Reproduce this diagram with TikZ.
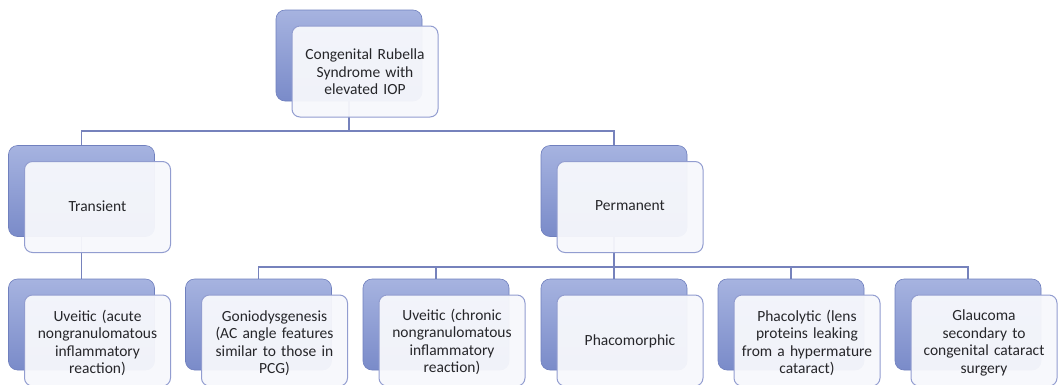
\documentclass[tikz,border=0pt]{standalone}
\usepackage{fontspec}
\setmainfont{Carlito}
\usetikzlibrary{backgrounds}
\definecolor{backtop}{RGB}{166,179,224}
\definecolor{backbot}{RGB}{122,139,201}
\definecolor{backline}{RGB}{112,128,190}
\definecolor{frontfill}{RGB}{247,248,252}
\definecolor{frontline}{RGB}{146,157,208}
\definecolor{linkcol}{RGB}{118,130,188}
\definecolor{textcol}{RGB}{38,38,42}
\tikzset{
  backbox/.style={rectangle, rounded corners=9pt, minimum width=146pt,
    minimum height=91pt, inner sep=0pt, draw=backline, line width=0.6pt,
    top color=backtop, bottom color=backbot},
  frontbox/.style={rectangle, rounded corners=8pt, minimum width=146pt,
    minimum height=91pt, inner sep=0pt, draw=frontline, line width=1pt,
    fill=frontfill, fill opacity=0.95, text opacity=1},
  label/.style={text width=142pt, align=center, text=textcol,
    font=\fontsize{15.5pt}{17.5pt}\selectfont, inner sep=0pt},
  link/.style={draw=linkcol, line width=1.2pt}
}
\begin{document}
\begin{tikzpicture}[x=1pt,y=-1pt]
\useasboundingbox (0,0) rectangle (1058,384);
\clip (0,0) rectangle (1058,384);

% root
\node[backbox] (crsB) at (349,55.5) {};
\node[frontbox] (crsF) at (365,71.5) {};
\node[label] (crs) at (365,72) {Congenital Rubella\\Syndrome with\\elevated IOP};

% second level
\node[backbox] (trB) at (81.5,191) {};
\node[frontbox] (trF) at (97.5,207) {};
\node[label] (tr) at (97.5,206) {Transient};

\node[backbox] (peB) at (614,191) {};
\node[frontbox] (peF) at (630,207) {};
\node[label] (pe) at (630,206) {Permanent};

% third level
\node[backbox] (uaB) at (81.5,324.5) {};
\node[frontbox] (uaF) at (97.5,340.5) {};
\node[label] (ua) at (97.5,343) {Uveitic (acute\\nongranulomatous\\inflammatory\\reaction)};

\node[backbox] (goB) at (258.5,324.5) {};
\node[frontbox] (goF) at (274.5,340.5) {};
\node[label] (go) at (274.5,343) {Goniodysgenesis\\(AC angle features\\similar to those in\\PCG)};

\node[backbox] (ucB) at (436,324.5) {};
\node[frontbox] (ucF) at (452,340.5) {};
\node[label] (uc) at (452,342) {Uveitic (chronic\\nongranulomatous\\inflammatory\\reaction)};

\node[backbox] (pmB) at (614,324.5) {};
\node[frontbox] (pmF) at (630,340.5) {};
\node[label] (pm) at (630,341) {Phacomorphic};

\node[backbox] (plB) at (791,324.5) {};
\node[frontbox] (plF) at (807,340.5) {};
\node[label] (pl) at (807,343) {Phacolytic (lens\\proteins leaking\\from a hypermature\\cataract)};

\node[backbox] (glB) at (968,324.5) {};
\node[frontbox] (glF) at (984,340.5) {};
\node[label] (gl) at (984,343) {Glaucoma\\secondary to\\congenital cataract\\surgery};

% white page and connectors, behind the boxes
\begin{scope}[on background layer]
  \fill[white] (0,0) rectangle (1058,384);
  \coordinate (hubA) at (0,131);
  \coordinate (hubB) at (0,267);
  \draw[link] (crsB.center) -- (crsB.center |- hubA) -| (trB.center);
  \draw[link] (crsB.center |- hubA) -| (peB.center);
  \draw[link] (trB.center) -- (uaB.center);
  \draw[link] (peB.center) -- (pmB.center);
  \draw[link] (goB.center) -- (goB.center |- hubB) -- (glB.center |- hubB) -- (glB.center);
  \draw[link] (ucB.center |- hubB) -- (ucB.center);
  \draw[link] (plB.center |- hubB) -- (plB.center);
\end{scope}
\end{tikzpicture}
\end{document}
